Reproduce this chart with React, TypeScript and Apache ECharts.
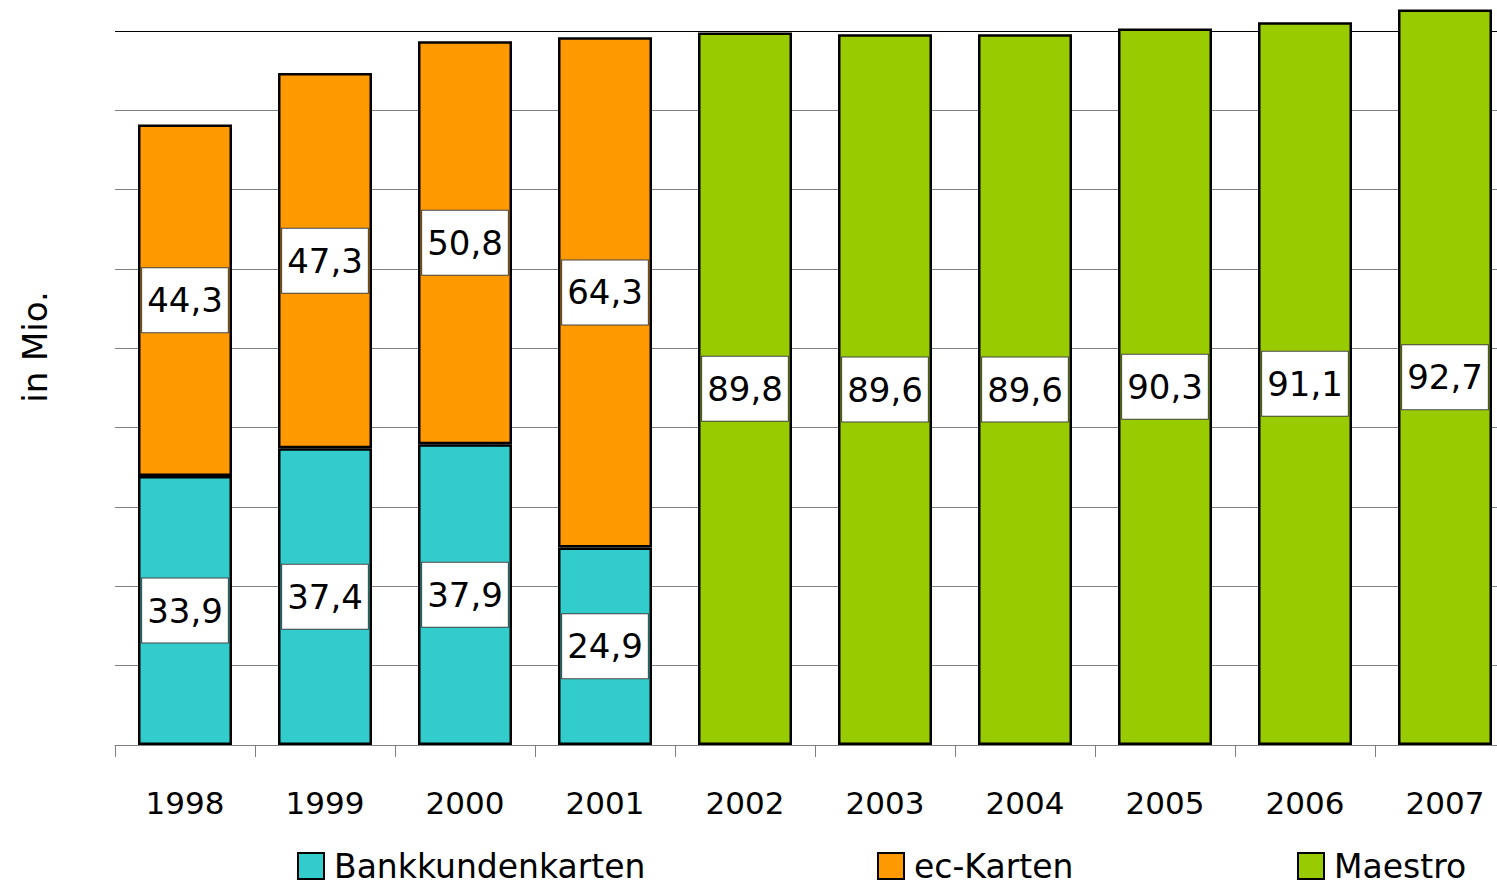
import React, { useEffect, useRef } from "react";
import * as echarts from "echarts";

const years = ["1998", "1999", "2000", "2001", "2002", "2003", "2004", "2005", "2006", "2007"];
const bankkunden = [33.9, 37.4, 37.9, 24.9, null, null, null, null, null, null];
const ecKarten = [44.3, 47.3, 50.8, 64.3, null, null, null, null, null, null];
const maestro = [null, null, null, null, 89.8, 89.6, 89.6, 90.3, 91.1, 92.7];
const seriesNames = ["Bankkundenkarten", "ec-Karten", "Maestro"];
const seriesColors = ["#33CCCC", "#FF9900", "#99CC00"];
const legendLeft = [297, 877, 1297];

const FONT = "DejaVu Sans";

export default function App() {
  const ref = useRef<HTMLDivElement>(null);
  useEffect(() => {
    document.body.style.margin = "0";
    if (!ref.current) return;
    const chart = echarts.init(ref.current, null, { renderer: "svg" });
    const label = {
      show: true,
      position: "inside",
      formatter: (p: any) => String(p.value).replace(".", ","),
      color: "#000",
      fontFamily: FONT,
      fontSize: 34,
      lineHeight: 40,
      backgroundColor: "#fff",
      borderColor: "#444",
      borderWidth: 1,
      padding: [12, 5, 12, 5],
    };
    const datasets = [bankkunden, ecKarten, maestro];
    const gridColors = ["#808080", "#808080", "#808080", "#808080", "#808080", "#808080", "#808080", "#808080", "#808080", "#000"];
    chart.setOption({
      animation: false,
      grid: { left: 115, width: 1400, top: 31, bottom: 140, outerBoundsMode: "none", containLabel: false },
      legend: seriesNames.map((n, i) => ({
        data: [n],
        left: legendLeft[i],
        top: 847,
        padding: 0,
        icon: "rect",
        itemWidth: 26,
        itemHeight: 26,
        textStyle: { fontFamily: FONT, fontSize: 33, lineHeight: 38, color: "#000", padding: [0, 0, 0, 5] },
      })),
      xAxis: {
        type: "category",
        data: years,
        axisLine: { lineStyle: { color: "#808080", width: 1 } },
        axisTick: { show: true, length: 12, lineStyle: { color: "#808080" } },
        axisLabel: { fontFamily: FONT, fontSize: 31, color: "#000", margin: 42 },
      },
      yAxis: {
        type: "value",
        min: 0,
        max: 90,
        interval: 10,
        axisLabel: { show: false },
        axisLine: { show: false },
        axisTick: { show: false },
        splitLine: { lineStyle: { color: gridColors, width: 1 } },
      },
      graphic: [
        {
          type: "text",
          x: 35,
          y: 347,
          rotation: Math.PI / 2,
          style: {
            text: "in Mio.",
            fontFamily: FONT,
            fontSize: 34,
            fill: "#000",
            align: "center",
            verticalAlign: "middle",
          },
        },
      ],
      series: seriesNames.map((n, i) => ({
        name: n,
        type: "bar",
        stack: "total",
        data: datasets[i],
        barWidth: 94,
        clip: false,
        itemStyle: { color: seriesColors[i], borderColor: "#000", borderWidth: 2.5 },
        label,
      })),
    });
    return () => chart.dispose();
  }, []);
  return <div ref={ref} style={{ width: 1497, height: 885 }} />;
}
